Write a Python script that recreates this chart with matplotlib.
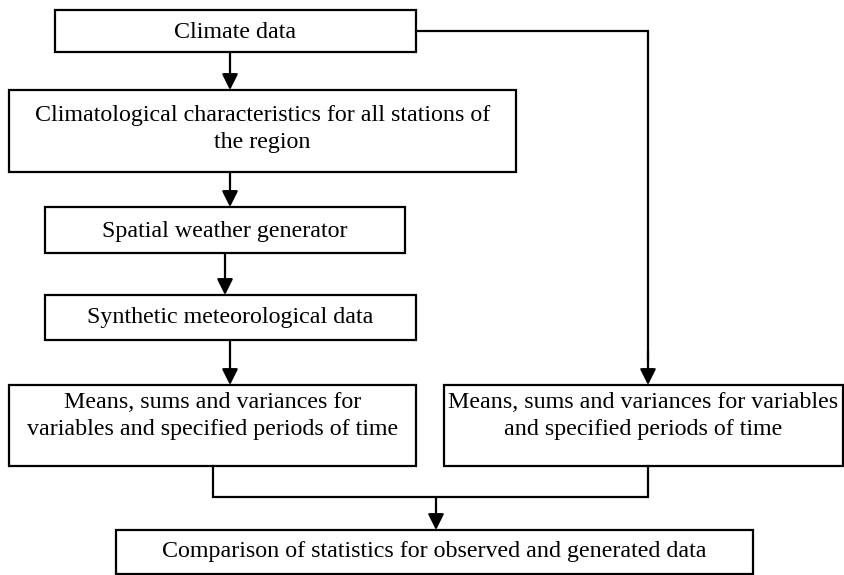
import matplotlib.pyplot as plt
from matplotlib.patches import Rectangle

# box texts
box_labels = [
    'Climate data',
    'Climatological characteristics for all stations of\nthe region',
    'Spatial weather generator',
    'Synthetic meteorological data',
    'Means, sums and variances for\nvariables and specified periods of time',
    'Means, sums and variances for variables\nand specified periods of time',
    'Comparison of statistics for observed and generated data',
]

# box geometry in pixels (left, top, right, bottom) and text centre y
box_xy = [
    (55, 10, 416, 52),
    (9, 90, 516, 172),
    (45, 207, 405, 253),
    (45, 295, 416, 340),
    (9, 385, 416, 466),
    (444, 385, 843, 466),
    (116, 530, 753, 574),
]
text_y = [32, 129, 232, 318, 416, 416, 551]

LW = 1.6


def arrow(ax, x0, y0, x1, y1):
    ax.annotate('', xy=(x1, y1), xytext=(x0, y0),
                arrowprops=dict(arrowstyle='-|>', lw=LW, color='black',
                                mutation_scale=24, shrinkA=0, shrinkB=0))


def main():
    plt.rcParams['font.family'] = ['Liberation Serif', 'DejaVu Serif']
    fig = plt.figure(figsize=(8.45, 5.75), dpi=100)
    ax = fig.add_axes([0, 0, 1, 1])
    ax.set_xlim(0, 845)
    ax.set_ylim(575, 0)
    ax.axis('off')

    # boxes
    for label, (x0, y0, x1, y1), ty in zip(box_labels, box_xy, text_y):
        ax.add_patch(Rectangle((x0, y0), x1 - x0, y1 - y0, fill=False,
                               lw=LW, edgecolor='black'))
        ax.text((x0 + x1) / 2, ty, label, ha='center',
                va='center', fontsize=17.3, linespacing=1.38)

    # vertical chain on the left
    arrow(ax, 230, 52, 230, 90)
    arrow(ax, 230, 172, 230, 207)
    arrow(ax, 225, 253, 225, 295)
    arrow(ax, 230, 340, 230, 385)

    # climate data -> right branch
    ax.plot([416, 648, 648], [31, 31, 360], color='black', lw=LW,
            solid_joinstyle='miter')
    arrow(ax, 648, 350, 648, 385)

    # join the two branches
    ax.plot([213, 213, 648, 648], [466, 497, 497, 466], color='black',
            lw=LW, solid_joinstyle='miter')
    arrow(ax, 436, 497, 436, 530)

    plt.savefig('out.png', dpi=100)
    plt.close()


if __name__ == '__main__':
    main()
